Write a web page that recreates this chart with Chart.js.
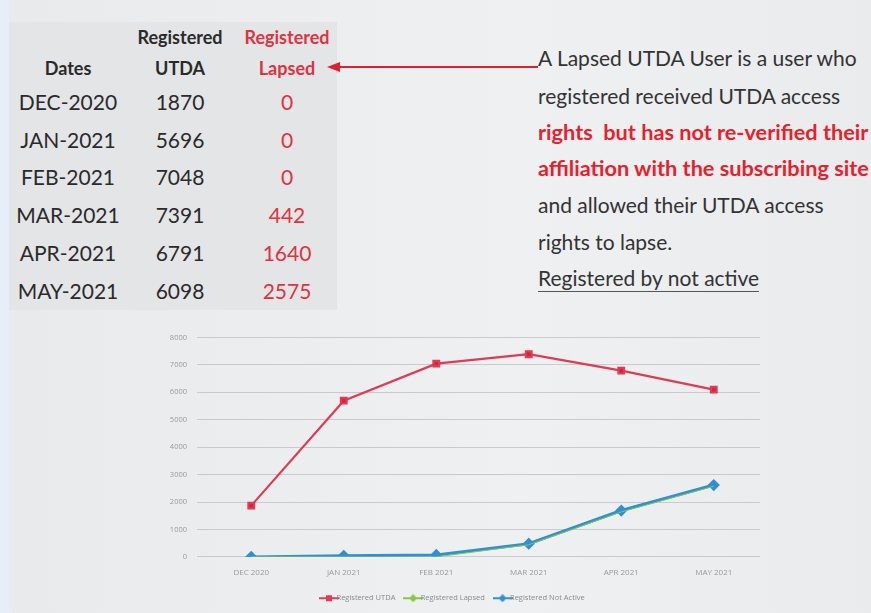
<!DOCTYPE html>
<html>
<head>
<meta charset="utf-8">
<script src="https://cdn.jsdelivr.net/npm/chart.js@4.4.0/dist/chart.umd.min.js"></script>
<style>
  html, body { margin: 0; padding: 0; }
  body {
    width: 871px; height: 613px; overflow: hidden; position: relative;
    background: linear-gradient(90deg, #e9eaec 0%, #eef0f1 60%, #e9ebec 100%);
    font-family: "Lato", sans-serif;
  }
  .strip { position: absolute; left: 0; top: 0; width: 9px; height: 613px; background: #e6eefa; }
  .panel { position: absolute; left: 9px; top: 22px; width: 328px; height: 288px; background: #e4e5e7; }
  .t { position: absolute; white-space: nowrap; color: #2a2a2a; }
  .hd { font-weight: bold; font-size: 18px; text-align: center; }
  .cell { font-size: 21px; text-align: center; }
  .red { color: #e0323f; }
  .note { position: absolute; left: 538px; font-size: 21px; color: #333; white-space: nowrap; }
  .note.b { color: #e8202c; font-weight: bold; font-size: 21.7px; }
  #arrow { position: absolute; left: 326px; top: 60px; }
  #wrap { position: absolute; left: 150px; top: 323px; width: 640px; height: 289px; }
</style>
</head>
<body>
<div class="strip"></div>
<div class="panel"></div>
<div id="table"></div>
<svg id="arrow" width="215" height="14">
  <line x1="10" y1="7" x2="212" y2="7" stroke="#d8232f" stroke-width="2"/>
  <polygon points="1,7 14,2 14,12" fill="#d8232f"/>
</svg>
<div class="note" style="top:45px">A Lapsed UTDA User is a user who</div>
<div class="note" style="top:83px">registered received UTDA access</div>
<div class="note b" style="top:119px">rights&nbsp; but has not re-verified their</div>
<div class="note b" style="top:155px">affiliation with the subscribing site</div>
<div class="note" style="top:192px">and allowed their UTDA access</div>
<div class="note" style="top:229px">rights to lapse.</div>
<div class="note" style="top:265px; border-bottom: 1.5px solid #555; padding-bottom: 1px;">Registered by not active</div>
<div id="wrap"><canvas id="chart"></canvas></div>
<script>
const dates = ["DEC-2020", "JAN-2021", "FEB-2021", "MAR-2021", "APR-2021", "MAY-2021"];
const axisLabels = ["DEC 2020", "JAN 2021", "FEB 2021", "MAR 2021", "APR 2021", "MAY 2021"];
const registeredUtda = [1870, 5696, 7048, 7391, 6791, 6098];
const registeredLapsed = [0, 0, 0, 442, 1640, 2575];
const registeredNotActive = [0, 40, 70, 480, 1690, 2620];

// Table on the slide
const table = document.getElementById("table");
const colX = [68, 180, 287];
function addText(cls, text, x, y) {
  const d = document.createElement("div");
  d.className = "t " + cls;
  d.textContent = text;
  d.style.left = (x - 70) + "px";
  d.style.width = "140px";
  d.style.top = y + "px";
  table.appendChild(d);
}
addText("hd", "Registered", colX[1], 26);
addText("hd red", "Registered", colX[2], 26);
addText("hd", "Dates", colX[0], 57);
addText("hd", "UTDA", colX[1], 57);
addText("hd red", "Lapsed", colX[2], 57);
dates.forEach((d, i) => {
  const y = 89 + i * 37.7;
  addText("cell", d, colX[0], y);
  addText("cell", String(registeredUtda[i]), colX[1], y);
  addText("cell red", String(registeredLapsed[i]), colX[2], y);
});

// little legend icons: line with marker
function icon(color, shape) {
  const c = document.createElement("canvas");
  c.width = 20; c.height = 8;
  const g = c.getContext("2d");
  g.strokeStyle = color; g.fillStyle = color; g.lineWidth = 2;
  g.beginPath(); g.moveTo(0, 4); g.lineTo(20, 4); g.stroke();
  g.beginPath();
  if (shape === "rect") g.rect(7, 1, 6, 6);
  else { g.moveTo(10, 0); g.lineTo(14, 4); g.lineTo(10, 8); g.lineTo(6, 4); g.closePath(); }
  g.fill();
  return c;
}

const red = "#dc3c55";
const green = "#8cc63f";
const blue = "#2f8fd8";
const icons = [icon(red, "rect"), icon(green, "diamond"), icon(blue, "diamond")];

const ctx = document.getElementById("chart").getContext("2d");
new Chart(ctx, {
  type: "line",
  data: {
    labels: axisLabels,
    datasets: [
      {
        label: "Registered UTDA",
        data: registeredUtda,
        borderColor: red,
        backgroundColor: "#e0203a",
        borderWidth: 2.2,
        pointStyle: "rect",
        pointRadius: 4,
        tension: 0,
      },
      {
        // sits under the blue line in the picture
        label: "Registered Lapsed",
        data: registeredLapsed,
        borderColor: green,
        backgroundColor: green,
        borderWidth: 1,
        pointRadius: 0,
        tension: 0,
      },
      {
        label: "Registered Not Active",
        data: registeredNotActive,
        borderColor: blue,
        backgroundColor: blue,
        borderWidth: 3,
        pointStyle: "rectRot",
        pointRadius: 4,
        tension: 0,
      },
    ],
  },
  options: {
    responsive: true,
    maintainAspectRatio: false,
    animation: false,
    layout: { padding: { left: 0, right: 30, top: 5, bottom: 0 } },
    plugins: {
      tooltip: { enabled: false },
      legend: {
        position: "bottom",
        labels: {
          color: "#8a8a8a",
          font: { family: "Open Sans", size: 7.5 },
          usePointStyle: true,
          padding: 14,
          generateLabels: (chart) =>
            chart.data.datasets.map((ds, i) => ({
              text: ds.label,
              pointStyle: icons[i],
              fontColor: "#8a8a8a",
              datasetIndex: i,
              strokeStyle: ds.borderColor,
              fillStyle: ds.borderColor,
            })),
        },
      },
    },
    scales: {
      x: {
        offset: true,
        grid: { display: false },
        border: { display: false },
        ticks: { color: "#9a9a9a", font: { family: "Open Sans", size: 8 }, padding: 3 },
      },
      y: {
        min: 0,
        max: 8000,
        afterFit: (scale) => { scale.width = 55; },
        grid: { color: "#c9cacc", lineWidth: 1 },
        border: { display: false },
        ticks: {
          stepSize: 1000,
          color: "#9a9a9a",
          font: { family: "Open Sans", size: 7.5 },
          padding: 10,
          callback: (v) => String(v),
        },
      },
    },
  },
});
</script>
</body>
</html>
